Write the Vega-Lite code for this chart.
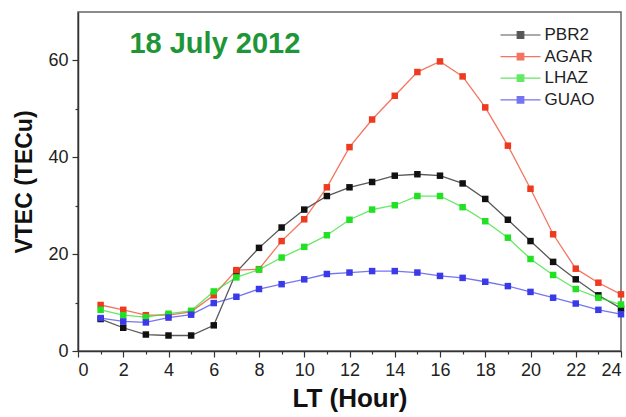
{
  "$schema": "https://vega.github.io/schema/vega-lite/v6.json",
  "width": 626,
  "height": 417,
  "autosize": {"type": "fit", "contains": "padding"},
  "padding": {"left": 13, "top": 12, "right": 1, "bottom": 6},
  "background": "white",
  "config": {
    "font": "Liberation Sans",
    "view": {"stroke": "#666", "strokeWidth": 1.5},
    "axis": {"domainColor": "#333", "domainWidth": 1.5, "tickColor": "#333", "tickWidth": 1.2, "grid": false, "labelFont": "Liberation Sans", "labelFontSize": 18, "labelColor": "#222", "titleFont": "Liberation Sans", "titleFontSize": 23, "titleFontWeight": "bold", "titleColor": "#111"}
  },
  "datasets": {
    "series": [
      {"hour":1,"station":"PBR2","vtec":6.6},{"hour":2,"station":"PBR2","vtec":4.8},{"hour":3,"station":"PBR2","vtec":3.4},{"hour":4,"station":"PBR2","vtec":3.2},{"hour":5,"station":"PBR2","vtec":3.2},{"hour":6,"station":"PBR2","vtec":5.3},{"hour":7,"station":"PBR2","vtec":16.3},{"hour":8,"station":"PBR2","vtec":21.3},{"hour":9,"station":"PBR2","vtec":25.5},{"hour":10,"station":"PBR2","vtec":29.2},{"hour":11,"station":"PBR2","vtec":32.0},{"hour":12,"station":"PBR2","vtec":33.8},{"hour":13,"station":"PBR2","vtec":34.9},{"hour":14,"station":"PBR2","vtec":36.2},{"hour":15,"station":"PBR2","vtec":36.5},{"hour":16,"station":"PBR2","vtec":36.2},{"hour":17,"station":"PBR2","vtec":34.6},{"hour":18,"station":"PBR2","vtec":31.4},{"hour":19,"station":"PBR2","vtec":27.1},{"hour":20,"station":"PBR2","vtec":22.7},{"hour":21,"station":"PBR2","vtec":18.4},{"hour":22,"station":"PBR2","vtec":14.8},{"hour":23,"station":"PBR2","vtec":11.5},{"hour":24,"station":"PBR2","vtec":8.8},
      {"hour":1,"station":"AGAR","vtec":9.5},{"hour":2,"station":"AGAR","vtec":8.5},{"hour":3,"station":"AGAR","vtec":7.4},{"hour":4,"station":"AGAR","vtec":7.4},{"hour":5,"station":"AGAR","vtec":8.1},{"hour":6,"station":"AGAR","vtec":11.5},{"hour":7,"station":"AGAR","vtec":16.7},{"hour":8,"station":"AGAR","vtec":16.9},{"hour":9,"station":"AGAR","vtec":22.7},{"hour":10,"station":"AGAR","vtec":27.2},{"hour":11,"station":"AGAR","vtec":33.8},{"hour":12,"station":"AGAR","vtec":42.1},{"hour":13,"station":"AGAR","vtec":47.8},{"hour":14,"station":"AGAR","vtec":52.7},{"hour":15,"station":"AGAR","vtec":57.6},{"hour":16,"station":"AGAR","vtec":59.8},{"hour":17,"station":"AGAR","vtec":56.7},{"hour":18,"station":"AGAR","vtec":50.3},{"hour":19,"station":"AGAR","vtec":42.4},{"hour":20,"station":"AGAR","vtec":33.5},{"hour":21,"station":"AGAR","vtec":24.1},{"hour":22,"station":"AGAR","vtec":17.0},{"hour":23,"station":"AGAR","vtec":14.1},{"hour":24,"station":"AGAR","vtec":11.7},
      {"hour":1,"station":"LHAZ","vtec":8.5},{"hour":2,"station":"LHAZ","vtec":7.4},{"hour":3,"station":"LHAZ","vtec":7.0},{"hour":4,"station":"LHAZ","vtec":7.7},{"hour":5,"station":"LHAZ","vtec":8.3},{"hour":6,"station":"LHAZ","vtec":12.3},{"hour":7,"station":"LHAZ","vtec":15.2},{"hour":8,"station":"LHAZ","vtec":16.8},{"hour":9,"station":"LHAZ","vtec":19.3},{"hour":10,"station":"LHAZ","vtec":21.5},{"hour":11,"station":"LHAZ","vtec":23.9},{"hour":12,"station":"LHAZ","vtec":27.1},{"hour":13,"station":"LHAZ","vtec":29.2},{"hour":14,"station":"LHAZ","vtec":30.1},{"hour":15,"station":"LHAZ","vtec":32.0},{"hour":16,"station":"LHAZ","vtec":32.0},{"hour":17,"station":"LHAZ","vtec":29.7},{"hour":18,"station":"LHAZ","vtec":26.8},{"hour":19,"station":"LHAZ","vtec":23.4},{"hour":20,"station":"LHAZ","vtec":19.0},{"hour":21,"station":"LHAZ","vtec":15.7},{"hour":22,"station":"LHAZ","vtec":12.8},{"hour":23,"station":"LHAZ","vtec":11.0},{"hour":24,"station":"LHAZ","vtec":9.6},
      {"hour":1,"station":"GUAO","vtec":6.8},{"hour":2,"station":"GUAO","vtec":6.1},{"hour":3,"station":"GUAO","vtec":5.9},{"hour":4,"station":"GUAO","vtec":6.9},{"hour":5,"station":"GUAO","vtec":7.5},{"hour":6,"station":"GUAO","vtec":9.9},{"hour":7,"station":"GUAO","vtec":11.2},{"hour":8,"station":"GUAO","vtec":12.8},{"hour":9,"station":"GUAO","vtec":13.8},{"hour":10,"station":"GUAO","vtec":14.8},{"hour":11,"station":"GUAO","vtec":15.9},{"hour":12,"station":"GUAO","vtec":16.2},{"hour":13,"station":"GUAO","vtec":16.5},{"hour":14,"station":"GUAO","vtec":16.5},{"hour":15,"station":"GUAO","vtec":16.2},{"hour":16,"station":"GUAO","vtec":15.5},{"hour":17,"station":"GUAO","vtec":15.1},{"hour":18,"station":"GUAO","vtec":14.3},{"hour":19,"station":"GUAO","vtec":13.4},{"hour":20,"station":"GUAO","vtec":12.2},{"hour":21,"station":"GUAO","vtec":11.0},{"hour":22,"station":"GUAO","vtec":9.8},{"hour":23,"station":"GUAO","vtec":8.5},{"hour":24,"station":"GUAO","vtec":7.6}
    ],
    "label": [{"text": "18 July 2012"}]
  },
  "resolve": {"axis": {"x": "independent", "y": "independent"}},
  "layer": [
    {
      "data": {"name": "series"},
      "mark": {"type": "line", "strokeWidth": 1.3, "opacity": 0.7},
      "encoding": {
        "x": {"field": "hour", "type": "quantitative", "scale": {"domain": [0, 24], "nice": false, "zero": false},
              "axis": {"orient": "bottom", "values": [1,3,5,7,9,11,13,15,17,19,21,23], "labels": false, "tickSize": 3, "title": null, "domain": false}},
        "y": {"field": "vtec", "type": "quantitative", "scale": {"domain": [0, 70], "nice": false},
              "axis": {"orient": "left", "values": [10,30,50], "labels": false, "tickSize": 3, "title": null, "domain": false}},
        "color": {"field": "station", "type": "nominal",
                  "scale": {"domain": ["PBR2","AGAR","LHAZ","GUAO"], "range": ["#111111","#ee3a1e","#22e022","#3a3ae8"]},
                  "legend": {"title": null, "orient": "none", "legendX": 431.5, "legendY": 12, "padding": 0, "labelFontSize": 17, "labelColor": "#222", "labelFont": "Liberation Sans",
                             "symbolType": "M-2,0H2M-0.33,-0.33H0.33V0.33H-0.33Z", "symbolSize": 400, "symbolStrokeWidth": 1.2,
                             "rowPadding": 2.6, "labelOffset": 13,
                             "encode": {"symbols": {"update": {"fill": {"scale": "color", "field": "value"}, "stroke": {"scale": "color", "field": "value"}, "opacity": {"value": 1}, "strokeOpacity": {"value": 0.65}}}}}},
        "detail": {"field": "station"}
      }
    },
    {
      "data": {"name": "series"},
      "mark": {"type": "point", "shape": "square", "filled": true, "size": 42, "opacity": 1},
      "encoding": {
        "x": {"field": "hour", "type": "quantitative",
              "axis": {"orient": "bottom", "values": [0,2,4,6,8,10,12,14,16,18,20,22,24], "tickSize": 6, "labelPadding": 4, "title": "LT (Hour)", "titleFontSize": 26, "titlePadding": 6}},
        "y": {"field": "vtec", "type": "quantitative",
              "axis": {"orient": "left", "values": [0,20,40,60], "tickSize": 6, "labelPadding": 4, "title": "VTEC (TECu)", "titlePadding": 11}},
        "color": {"field": "station", "type": "nominal"}
      }
    },
    {
      "data": {"name": "label"},
      "mark": {"type": "text", "font": "Liberation Sans", "fontSize": 29, "fontWeight": "bold", "color": "#1e9638", "align": "center", "baseline": "middle"},
      "encoding": {
        "text": {"field": "text"},
        "x": {"datum": 6.05, "type": "quantitative", "axis": null},
        "y": {"datum": 63.3, "type": "quantitative", "axis": null}
      }
    }
  ]
}
